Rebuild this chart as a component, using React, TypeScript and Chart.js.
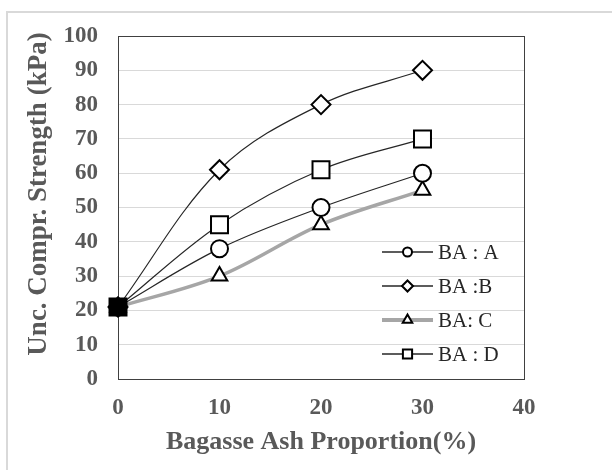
import React, { useEffect, useRef } from "react";
import { Chart, registerables } from "chart.js";

Chart.register(...registerables);

const xValues = [0, 10, 20, 30];
const baA = [21, 38, 50, 60];
const baB = [21, 61, 80, 90];
const baC = [21, 30, 45, 55];
const baD = [21, 45, 61, 70];
const seriesLabels = ["BA : A", "BA :B", "BA: C", "BA : D"];
const xTitle = "Bagasse Ash Proportion(%)";
const yTitle = "Unc. Compr. Strength (kPa)";

const SERIF = "'Liberation Serif', 'Times New Roman', serif";
const TICK_GRAY = "#595959";

type Style = {
  line: string;
  lineWidth: number;
  point: "circle" | "rectRot" | "triangle" | "rect";
  radius: number;
  legendRadius: number;
};

const styles: Style[] = [
  { line: "#262626", lineWidth: 1.2, point: "circle", radius: 8.5, legendRadius: 4.5 },
  { line: "#262626", lineWidth: 1.2, point: "rectRot", radius: 9.5, legendRadius: 5.5 },
  { line: "#a6a6a6", lineWidth: 3.5, point: "triangle", radius: 9, legendRadius: 5.5 },
  { line: "#262626", lineWidth: 1.2, point: "rect", radius: 12, legendRadius: 6.5 },
];

function drawMarker(ctx: CanvasRenderingContext2D, kind: string, x: number, y: number, r: number) {
  ctx.beginPath();
  if (kind === "circle") {
    ctx.arc(x, y, r, 0, Math.PI * 2);
  } else if (kind === "rectRot") {
    ctx.moveTo(x, y - r);
    ctx.lineTo(x + r, y);
    ctx.lineTo(x, y + r);
    ctx.lineTo(x - r, y);
    ctx.closePath();
  } else if (kind === "triangle") {
    const h = r * 1.5;
    const w = r * Math.sqrt(3) / 2;
    ctx.moveTo(x, y - h * 2 / 3);
    ctx.lineTo(x + w, y + h / 3);
    ctx.lineTo(x - w, y + h / 3);
    ctx.closePath();
  } else {
    const s = r * Math.SQRT1_2;
    ctx.rect(x - s, y - s, 2 * s, 2 * s);
  }
  ctx.fillStyle = "#ffffff";
  ctx.fill();
  ctx.strokeStyle = "#000000";
  ctx.lineWidth = 2;
  ctx.stroke();
}

const framePlugin = {
  id: "frame",
  beforeDraw(chart: any) {
    const ctx = chart.ctx;
    ctx.save();
    ctx.fillStyle = "#ffffff";
    ctx.fillRect(0, 0, chart.width, chart.height);
    ctx.strokeStyle = "#d9d9d9";
    ctx.lineWidth = 2;
    ctx.strokeRect(7, 12, chart.width + 20, chart.height + 20);
    ctx.restore();
  },
  beforeDatasetsDraw(chart: any) {
    const { ctx, chartArea } = chart;
    ctx.save();
    ctx.strokeStyle = "#404040";
    ctx.lineWidth = 1;
    ctx.strokeRect(
      Math.round(chartArea.left) + 0.5,
      Math.round(chartArea.top) + 0.5,
      Math.round(chartArea.right - chartArea.left),
      Math.round(chartArea.bottom - chartArea.top)
    );
    ctx.restore();
  },
  afterDraw(chart: any) {
    const { ctx, chartArea } = chart;
    ctx.save();
    const x0 = chartArea.right - 142;
    const x1 = chartArea.right - 91;
    const xm = (x0 + x1) / 2;
    const y0 = chartArea.bottom - 127;
    seriesLabels.forEach((label, i) => {
      const st = styles[i];
      const y = y0 + i * 34;
      ctx.beginPath();
      ctx.moveTo(x0, y);
      ctx.lineTo(x1, y);
      ctx.strokeStyle = st.line;
      ctx.lineWidth = i === 2 ? 4 : 1.5;
      ctx.stroke();
      drawMarker(ctx, st.point, xm, y, st.legendRadius);
      ctx.fillStyle = "#262626";
      ctx.font = `21px ${SERIF}`;
      ctx.textAlign = "left";
      ctx.textBaseline = "middle";
      ctx.fillText(label, x1 + 5, y + 1);
    });
    ctx.restore();
  },
};

export default function App() {
  const canvasRef = useRef<HTMLCanvasElement | null>(null);

  useEffect(() => {
    const canvas = canvasRef.current;
    if (!canvas) return;
    const series = [baA, baB, baC, baD];
    const orders = [1, 2, 3, 0];
    const datasets = series.map((vals, i) => {
      const st = styles[i];
      return {
        label: seriesLabels[i],
        data: xValues.map((x, j) => ({ x, y: vals[j] })),
        borderColor: st.line,
        borderWidth: st.lineWidth,
        tension: 0.35,
        pointStyle: st.point,
        pointRadius: st.radius,
        pointBorderColor: "#000000",
        pointBorderWidth: 2,
        pointBackgroundColor: (c: any) => (i === 3 && c.dataIndex === 0 ? "#000000" : "#ffffff"),
        clip: false as any,
        order: orders[i],
        fill: false,
      };
    });

    const chart = new Chart(canvas, {
      type: "line",
      data: { datasets },
      plugins: [framePlugin],
      options: {
        animation: false,
        responsive: false,
        devicePixelRatio: 1,
        layout: { padding: { top: 36, right: 88, bottom: 10, left: 20 } },
        plugins: { legend: { display: false }, tooltip: { enabled: false } },
        scales: {
          x: {
            type: "linear",
            min: 0,
            max: 40,
            ticks: {
              stepSize: 10,
              padding: 15,
              color: TICK_GRAY,
              font: { family: SERIF, size: 23, weight: "bold" },
            },
            grid: { display: false, drawTicks: false },
            border: { display: false },
            title: {
              display: true,
              text: xTitle,
              color: TICK_GRAY,
              font: { family: SERIF, size: 26, weight: "bold" },
              padding: { top: 0, bottom: 2 },
            },
            afterFit: (s: any) => {
              s.height = 81;
            },
          },
          y: {
            type: "linear",
            min: 0,
            max: 100,
            ticks: {
              stepSize: 10,
              padding: 20,
              color: TICK_GRAY,
              font: { family: SERIF, size: 23, weight: "bold" },
            },
            grid: { color: "#d9d9d9", lineWidth: 1, drawTicks: false },
            border: { display: false },
            title: {
              display: true,
              text: "    " + yTitle,
              color: TICK_GRAY,
              font: { family: SERIF, size: 27, weight: "bold" },
              padding: { top: 3, bottom: 0 },
            },
            afterFit: (s: any) => {
              s.width = 98;
            },
          },
        },
      },
    });
    return () => chart.destroy();
  }, []);

  return (
    <div style={{ position: "fixed", left: 0, top: 0, width: 612, height: 470, background: "#fff" }}>
      <canvas ref={canvasRef} width={612} height={470} style={{ width: 612, height: 470, display: "block" }} />
    </div>
  );
}
